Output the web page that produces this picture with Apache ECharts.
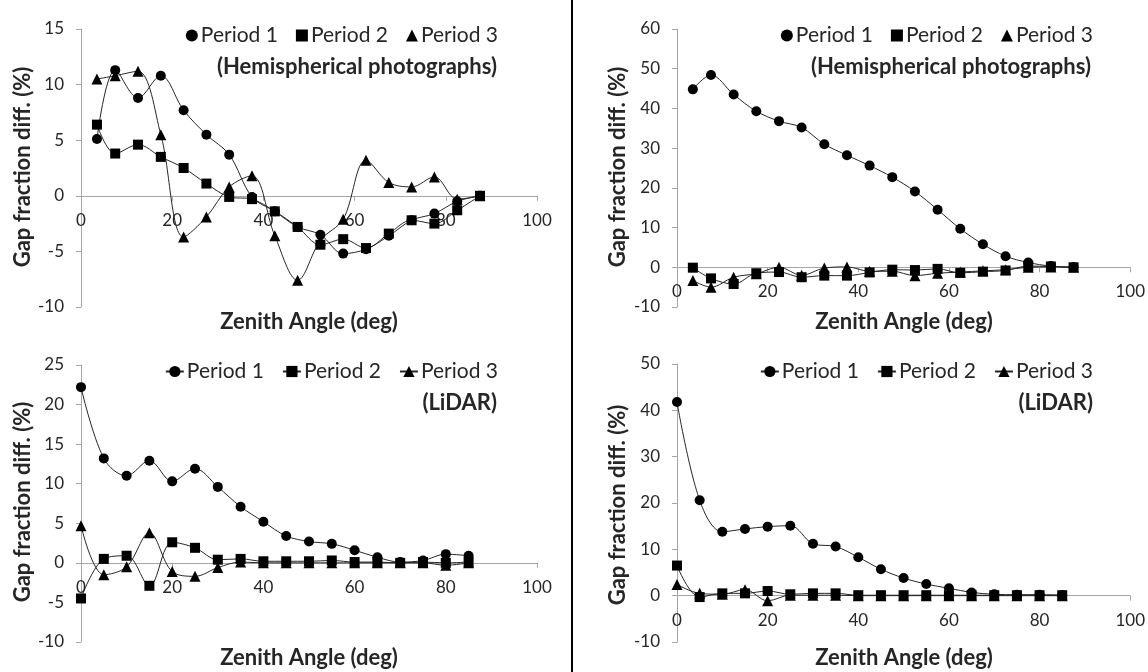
<!DOCTYPE html>
<html>
<head>
<meta charset="utf-8">
<title>Gap fraction difference vs zenith angle</title>
<script src="https://cdn.jsdelivr.net/npm/echarts@6.0.0/dist/echarts.min.js"></script>
<style>
html, body { margin: 0; padding: 0; background: #fff; }
#chart { width: 1148px; height: 672px; }
</style>
</head>
<body>
<div id="chart"></div>
<script>
// zenith angles (deg)
var hemiAngles = [3.5, 7.5, 12.5, 17.5, 22.5, 27.5, 32.5, 37.5, 42.5, 47.5, 52.5, 57.5, 62.5, 67.5, 72.5, 77.5, 82.5, 87.5];
var lidarAngles = [0, 5, 10, 15, 20, 25, 30, 35, 40, 45, 50, 55, 60, 65, 70, 75, 80, 85];

// top left - hemispherical photographs
var hemiLeftP1 = [5.1, 11.3, 8.8, 10.8, 7.7, 5.5, 3.7, -0.1, -1.4, -2.8, -3.5, -5.2, -4.8, -3.6, -2.2, -1.6, -0.5, 0];
var hemiLeftP2 = [6.4, 3.8, 4.6, 3.5, 2.5, 1.1, -0.1, -0.3, -1.4, -2.8, -4.4, -3.9, -4.7, -3.4, -2.2, -2.5, -1.3, 0];
var hemiLeftP3 = [10.5, 10.8, 11.2, 5.5, -3.7, -1.9, 0.8, 1.8, -3.6, -7.6, -4.0, -2.1, 3.2, 1.2, 0.8, 1.7, -0.3, 0];

// top right - hemispherical photographs
var hemiRightP1 = [44.8, 48.4, 43.5, 39.3, 36.8, 35.2, 31.0, 28.2, 25.6, 22.7, 19.1, 14.5, 9.7, 5.8, 2.8, 1.2, 0.3, 0];
var hemiRightP2 = [-0.1, -2.8, -4.2, -1.5, -1.2, -2.5, -2.1, -2.1, -1.3, -0.6, -0.7, -0.4, -1.4, -1.1, -0.8, 0.3, 0.2, 0];
var hemiRightP3 = [-3.3, -5.0, -2.5, -1.6, 0, -2.0, -0.2, 0.1, -1.0, -1.0, -2.1, -1.5, -1.2, -0.9, -0.6, 0, 0.1, 0];

// bottom left - LiDAR
var lidarLeftP1 = [22.2, 13.2, 11.0, 12.9, 10.3, 11.9, 9.6, 7.1, 5.2, 3.4, 2.7, 2.4, 1.6, 0.7, 0.1, 0.3, 1.1, 0.9];
var lidarLeftP2 = [-4.5, 0.5, 0.9, -2.9, 2.6, 1.9, 0.4, 0.5, 0.2, 0.2, 0.2, 0.3, 0.1, 0.1, 0, 0.1, 0, 0.1];
var lidarLeftP3 = [4.7, -1.5, -0.5, 3.8, -1.1, -1.7, -0.6, 0.1, 0, 0, 0, 0, 0, 0, 0, 0, -0.3, 0];

// bottom right - LiDAR
var lidarRightP1 = [41.8, 20.6, 13.8, 14.4, 14.9, 15.1, 11.2, 10.6, 8.3, 5.7, 3.8, 2.5, 1.6, 0.7, 0.3, 0.2, 0.2, 0.1];
var lidarRightP2 = [6.5, -0.3, 0.5, 0.5, 1.0, 0.3, 0.5, 0.5, 0.1, 0.1, 0.1, 0.1, 0.1, 0.1, 0.1, 0.1, 0.1, 0.1];
var lidarRightP3 = [2.4, 0.5, 0.3, 1.3, -1.1, 0.1, 0.1, 0.1, 0, 0, 0, 0, 0, 0, 0, 0, 0, 0];

// y axis ranges [min, max, interval]
var yRanges = [[-10, 15, 5], [-10, 60, 10], [-10, 25, 5], [-10, 50, 10]];
var xTicks = [0, 100, 20];

var FONT = 'Lato';
var AXIS_GREY = '#a6a6a6';
var TEXT = '#262626';

var grids = [
	{ left: 81, top: 29, width: 456, height: 278 },
	{ left: 677, top: 29, width: 455, height: 278 },
	{ left: 81, top: 365, width: 456, height: 277 },
	{ left: 677, top: 364, width: 455, height: 278 }
];

// the category axis crosses at y = 0, like Excel does
function xAxisFor(i) {
	var r = yRanges[i];
	var zeroUp = (0 - r[0]) / (r[1] - r[0]) * grids[i].height;
	return {
		type: 'value', gridIndex: i, min: xTicks[0], max: xTicks[1], interval: xTicks[2],
		offset: -zeroUp,
		axisLine: { show: true, onZero: false, lineStyle: { color: AXIS_GREY, width: 1 } },
		axisTick: { show: true, length: 5, lineStyle: { color: AXIS_GREY } },
		axisLabel: { margin: 16, color: TEXT, fontFamily: FONT, fontSize: 17 },
		splitLine: { show: false }
	};
}

function yAxisFor(i) {
	var r = yRanges[i];
	return {
		type: 'value', gridIndex: i, min: r[0], max: r[1], interval: r[2],
		axisLine: { show: true, onZero: false, lineStyle: { color: AXIS_GREY, width: 1 } },
		axisTick: { show: true, length: 5, lineStyle: { color: AXIS_GREY } },
		axisLabel: { margin: 17, color: TEXT, fontFamily: FONT, fontSize: 17 },
		splitLine: { show: false }
	};
}

function lineSeries(name, idx, xs, ys, symbol, size) {
	var pts = [];
	for (var k = 0; k < xs.length; k++) pts.push([xs[k], ys[k]]);
	return {
		name: name, type: 'line', xAxisIndex: idx, yAxisIndex: idx,
		data: pts, symbol: symbol, symbolSize: size, smooth: 0.35,
		itemStyle: { color: '#000' },
		lineStyle: { color: '#262626', width: 1 },
		emphasis: { disabled: true }
	};
}

function panelSeries(idx, xs, p1, p2, p3) {
	return [
		lineSeries('Period 1', idx, xs, p1, 'circle', 10),
		lineSeries('Period 2', idx, xs, p2, 'rect', 10),
		lineSeries('Period 3', idx, xs, p3, 'triangle', 11)
	];
}

var markerLegendData = [
	{ name: 'Period 1', icon: 'circle' },
	{ name: 'Period 2', icon: 'rect' },
	{ name: 'Period 3', icon: 'triangle' }
];

function legendFor(right, top, markersOnly) {
	return {
		right: right, top: top, padding: 0, itemGap: 18,
		itemWidth: markersOnly ? 12 : 18, itemHeight: markersOnly ? 12 : 14,
		selectedMode: false,
		data: markersOnly ? markerLegendData : ['Period 1', 'Period 2', 'Period 3'],
		textStyle: { color: TEXT, fontFamily: FONT, fontSize: 21, padding: [0, 0, 0, -2] }
	};
}

function boldText(x, y, text, align, rotate) {
	return {
		type: 'text', x: x, y: y, rotation: rotate ? Math.PI / 2 : 0,
		style: {
			text: text, fill: TEXT, font: 'bold 22px ' + FONT,
			textAlign: align, textVerticalAlign: 'middle',
			align: align, verticalAlign: 'middle'
		}
	};
}

var series = []
	.concat(panelSeries(0, hemiAngles, hemiLeftP1, hemiLeftP2, hemiLeftP3))
	.concat(panelSeries(1, hemiAngles, hemiRightP1, hemiRightP2, hemiRightP3))
	.concat(panelSeries(2, lidarAngles, lidarLeftP1, lidarLeftP2, lidarLeftP3))
	.concat(panelSeries(3, lidarAngles, lidarRightP1, lidarRightP2, lidarRightP3));

var option = {
	animation: false,
	backgroundColor: '#fff',
	grid: grids,
	xAxis: [xAxisFor(0), xAxisFor(1), xAxisFor(2), xAxisFor(3)],
	yAxis: [yAxisFor(0), yAxisFor(1), yAxisFor(2), yAxisFor(3)],
	legend: [
		legendFor(650, 25, true),
		legendFor(55, 25, true),
		legendFor(650, 361, false),
		legendFor(55, 361, false)
	],
	graphic: [
		// divider between left and right column
		{ type: 'line', shape: { x1: 572, y1: 0, x2: 572, y2: 672 }, style: { stroke: '#000', lineWidth: 2 } },
		boldText(497, 67, '(Hemispherical photographs)', 'right'),
		boldText(1091, 67, '(Hemispherical photographs)', 'right'),
		boldText(497, 403, '(LiDAR)', 'right'),
		boldText(1093, 403, '(LiDAR)', 'right'),
		boldText(309, 322, 'Zenith Angle (deg)', 'center'),
		boldText(904, 322, 'Zenith Angle (deg)', 'center'),
		boldText(309, 658, 'Zenith Angle (deg)', 'center'),
		boldText(904, 658, 'Zenith Angle (deg)', 'center'),
		boldText(23, 167, 'Gap fraction diff. (%)', 'center', true),
		boldText(618, 167, 'Gap fraction diff. (%)', 'center', true),
		boldText(23, 502, 'Gap fraction diff. (%)', 'center', true),
		boldText(618, 505, 'Gap fraction diff. (%)', 'center', true)
	],
	series: series
};

var chart = echarts.init(document.getElementById('chart'));
chart.setOption(option);
</script>
</body>
</html>
